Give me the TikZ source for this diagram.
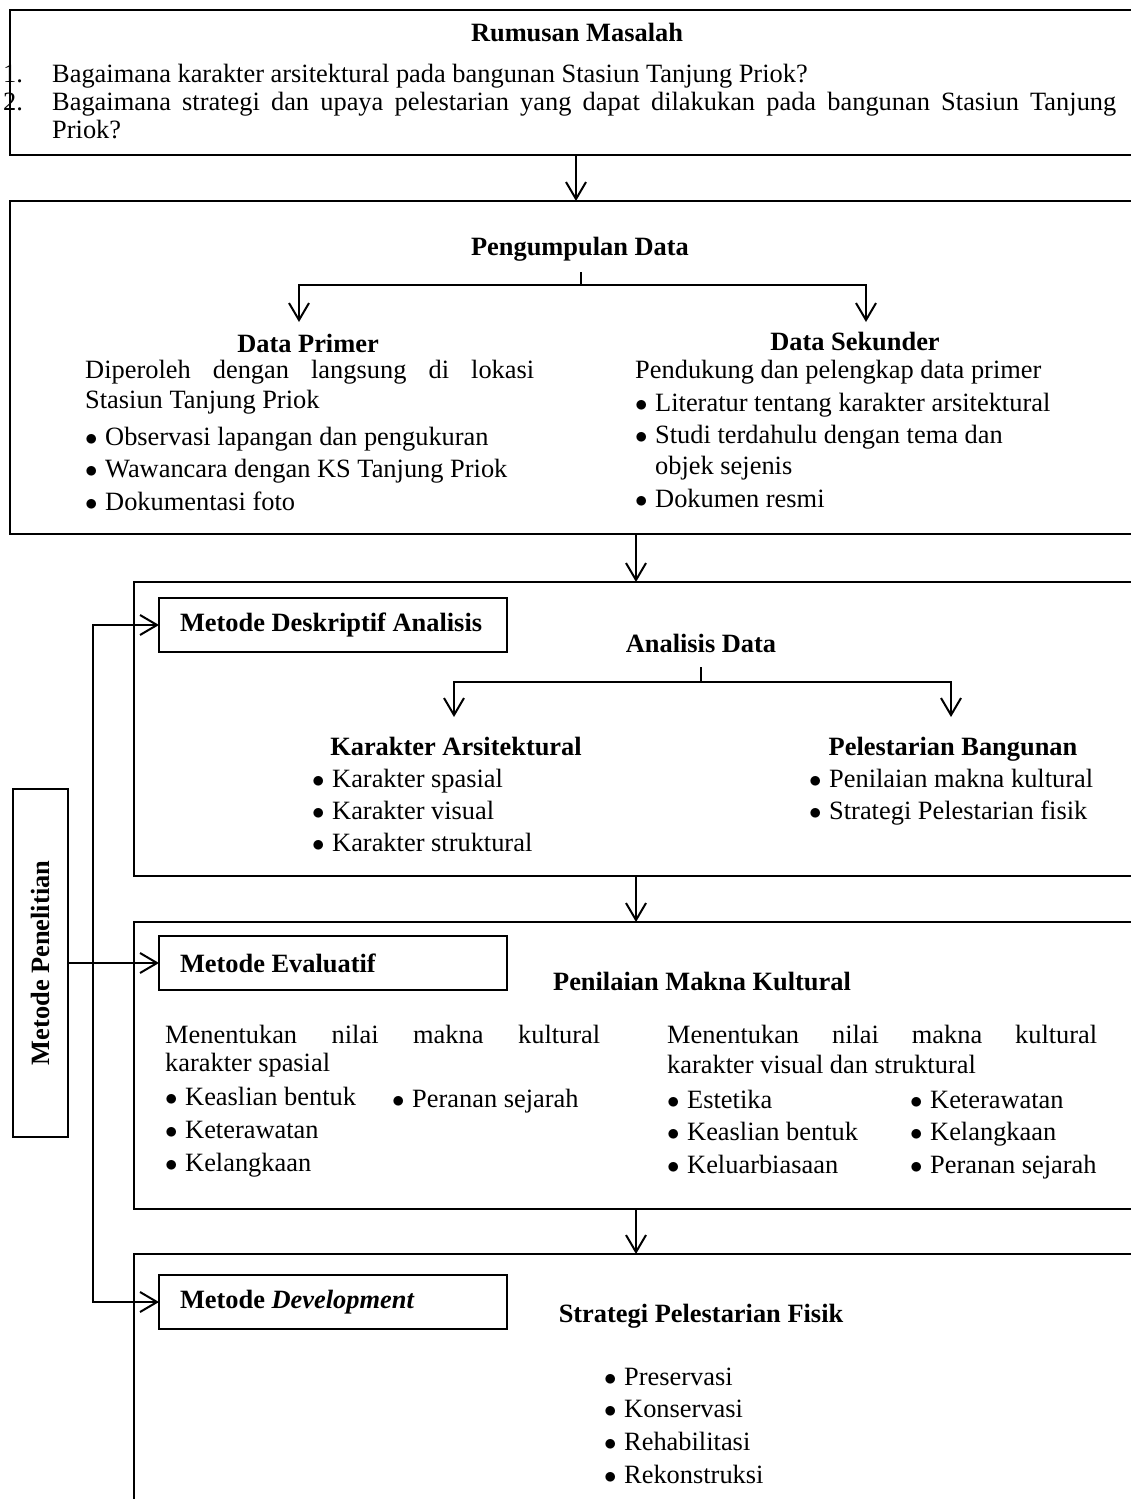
\documentclass[tikz,border=0pt]{standalone}
\usepackage{fontspec}
\usepackage{graphicx}
\setmainfont{Liberation Serif}
\usetikzlibrary{arrows.meta,positioning}

\newcommand{\bul}{\makebox[20pt][l]{$\bullet$}}

\begin{document}
\begin{tikzpicture}
  [
    x=1pt, y=-1pt,
    every node/.style={font=\fontsize{26.4}{30}\selectfont},
    txt/.style={inner sep=0pt, anchor=base west},
    ttl/.style={inner sep=0pt, anchor=base, font=\fontsize{26.4}{30}\selectfont\bfseries},
    bigbox/.style={draw, line width=2.8pt, outer sep=0pt, anchor=north west, minimum width=1150pt},
    methodbox/.style={draw, line width=2.4pt, outer sep=0pt, anchor=north west, minimum height=54pt,
      text width=306pt, inner xsep=21pt, inner ysep=0pt, align=flush left, font=\fontsize{26.4}{30}\selectfont\bfseries},
    flow/.style={-{Straight Barb[length=17pt, width=20pt]}, line width=2pt},
    branch/.style={line width=2pt},
  ]

  \useasboundingbox (0,0) rectangle (1131,1499);
  \clip (0,0) rectangle (1131,1499);

  % Rumusan Masalah
  \node [bigbox, minimum height=145pt] (rumusan) at (10,10) {};
  \node [ttl] (rumtitle) at (577,41) {Rumusan Masalah};
  \node [txt] (no1) at (3,82) {1.};
  \node [txt] (q1) at (52,82) {Bagaimana karakter arsitektural pada bangunan Stasiun Tanjung Priok?};
  \node [txt] (no2) at (3,110) {2.};
  \node [txt] (q2) at (52,110) {\makebox[1064pt][s]{Bagaimana strategi dan upaya pelestarian yang dapat dilakukan pada bangunan Stasiun Tanjung}};
  \node [txt] (q2b) at (52,138) {Priok?};

  % Pengumpulan Data
  \node [bigbox, minimum height=333pt] (pengumpulan) at (10,201) {};
  \node [ttl] (pengtitle) at (580,255) {Pengumpulan Data};
  \coordinate (pjoin) at (581,285);
  \coordinate (pleft) at (299,322);
  \coordinate (pright) at (866,322);
  \draw [branch] (pjoin) -- ++(0,-13);
  \draw [flow] (pjoin) -| (pleft);
  \draw [flow] (pjoin) -| (pright);

  \node [ttl] (primer) at (308,352) {Data Primer};
  \node [txt] (primer1) at (85,378) {\makebox[449pt][s]{Diperoleh dengan langsung di lokasi}};
  \node [txt] (primer2) at (85,408) {Stasiun Tanjung Priok};
  \foreach \t [count=\i] in {Observasi lapangan dan pengukuran, Wawancara dengan KS Tanjung Priok, Dokumentasi foto}
    \node [txt] (primer-b\i) at (85,{445+32.5*(\i-1)}) {\bul\t};

  \node [ttl] (sekunder) at (855,350) {Data Sekunder};
  \node [txt] (sek1) at (635,378) {Pendukung dan pelengkap data primer};
  \node [txt] (sek-b1) at (635,411) {\bul Literatur tentang karakter arsitektural};
  \node [txt] (sek-b2) at (635,443) {\bul Studi terdahulu dengan tema dan};
  \node [txt] (sek-b2b) at (655,474) {objek sejenis};
  \node [txt] (sek-b3) at (635,507) {\bul Dokumen resmi};

  \coordinate (cola) at (576,0);
  \coordinate (colb) at (636,0);
  \draw [flow] (rumusan.south -| cola) -- (pengumpulan.north -| cola);

  % Analisis Data
  \node [bigbox, minimum width=1026pt, minimum height=294pt] (analisis) at (134,582) {};
  \draw [flow] (pengumpulan.south -| colb) -- (analisis.north -| colb);
  \node [methodbox] (deskriptif) at (159,598) {Metode Deskriptif Analisis};
  \node [ttl] (antitle) at (701,652) {Analisis Data};
  \coordinate (ajoin) at (701,682);
  \coordinate (aleft) at (454,717);
  \coordinate (aright) at (951,717);
  \draw [branch] (ajoin) -- ++(0,-15);
  \draw [flow] (ajoin) -| (aleft);
  \draw [flow] (ajoin) -| (aright);

  \node [ttl] (karakter) at (456,755) {Karakter Arsitektural};
  \foreach \t [count=\i] in {Karakter spasial, Karakter visual, Karakter struktural}
    \node [txt] (kar-b\i) at (312,{787+32*(\i-1)}) {\bul\t};
  \node [ttl] (pelestarian) at (953,755) {Pelestarian Bangunan};
  \foreach \t [count=\i] in {Penilaian makna kultural, Strategi Pelestarian fisik}
    \node [txt] (pel-b\i) at (809,{787+32*(\i-1)}) {\bul\t};

  % Penilaian Makna Kultural
  \node [bigbox, minimum width=1026pt, minimum height=287pt] (penilaian) at (134,922) {};
  \draw [flow] (analisis.south -| colb) -- (penilaian.north -| colb);
  \node [methodbox] (evaluatif) at (159,936) {Metode Evaluatif};
  \node [ttl] (pentitle) at (702,990) {Penilaian Makna Kultural};

  \node [txt] (kiri1) at (165,1043) {\makebox[435pt][s]{Menentukan nilai makna kultural}};
  \node [txt] (kiri2) at (165,1071) {karakter spasial};
  \foreach \t [count=\i] in {Keaslian bentuk, Keterawatan, Kelangkaan}
    \node [txt] (kiri-b\i) at (165,{1105+33*(\i-1)}) {\bul\t};
  \node [txt] (kiri-b4) at (392,1107) {\bul Peranan sejarah};

  \node [txt] (kanan1) at (667,1043) {\makebox[430pt][s]{Menentukan nilai makna kultural}};
  \node [txt] (kanan2) at (667,1073) {karakter visual dan struktural};
  \foreach \t [count=\i] in {Estetika, Keaslian bentuk, Keluarbiasaan}
    \node [txt] (kanan-a\i) at (667,{1108+32.5*(\i-1)}) {\bul\t};
  \foreach \t [count=\i] in {Keterawatan, Kelangkaan, Peranan sejarah}
    \node [txt] (kanan-b\i) at (910,{1108+32.5*(\i-1)}) {\bul\t};

  % Strategi Pelestarian Fisik
  \node [bigbox, minimum width=1026pt, minimum height=330pt] (strategi) at (134,1254) {};
  \draw [flow] (penilaian.south -| colb) -- (strategi.north -| colb);
  \node [methodbox] (development) at (159,1275) {Metode \textit{Development}};
  \node [ttl] (strtitle) at (701,1322) {Strategi Pelestarian Fisik};
  \foreach \t [count=\i] in {Preservasi, Konservasi, Rehabilitasi, Rekonstruksi}
    \node [txt] (str-b\i) at (604,{1385+32.7*(\i-1)}) {\bul\t};

  % Metode Penelitian
  \node [draw, line width=2.4pt, outer sep=0pt, inner sep=0pt, minimum width=55pt, minimum height=348pt]
    (penelitian) at (40.5,963) {\rotatebox{90}{\bfseries Metode Penelitian}};
  \coordinate (spine) at (93,0);
  \draw [flow] (penelitian.east) -- (evaluatif.west);
  \draw [flow] (spine |- penelitian.east) -- (spine |- deskriptif.west) -- (deskriptif.west);
  \draw [flow] (spine |- penelitian.east) -- (spine |- development.west) -- (development.west);
\end{tikzpicture}
\end{document}
